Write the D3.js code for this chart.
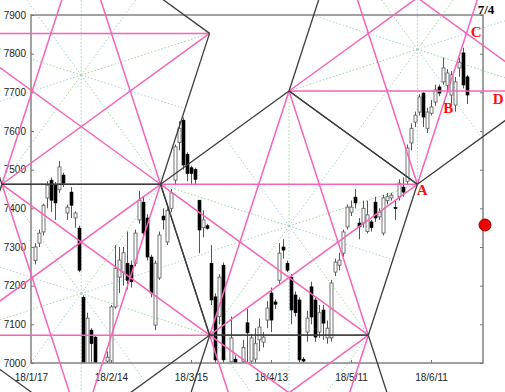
<!DOCTYPE html>
<html><head><meta charset="utf-8">
<script src="https://cdn.jsdelivr.net/npm/d3@7"></script>
<style>body{margin:0;background:#fff;overflow:hidden}</style>
</head><body><svg id="c" width="505" height="392"></svg>
<script>
// ---------------- data ----------------
const dateLabels = ["18/1/17","18/2/14","18/3/15","18/4/13","18/5/11","18/6/11"];
const dateTickIdx = [0,20,40,60,80,100];
const priceTicks = [7000,7100,7200,7300,7400,7500,7600,7700,7800,7900];
const lastDateLabel = "7/4";

const barIdx = d3.range(1,110);
const opens  = [7265,7310,7339,7427,7473,7460,7448,7486,7388,7442,7375,7349,7170,6980,7085,7067,6985,6960,7005,6995,
                7145,7222,7235,7258,7253,7258,7370,7416,7375,7274,7098,7220,7380,7313,7400,7473,7570,7628,7540,7505,
                7500,7421,7350,7355,7258,7171,7120,7253,6990,7003,7010,6990,7003,7104,7005,7010,7060,7054,7111,7181,
                7158,7214,7300,7258,7222,7176,7163,7010,7080,7197,7163,7080,7137,7065,7065,7235,7253,7284,7352,7390,
                7429,7362,7362,7340,7365,7416,7378,7336,7420,7427,7402,7430,7455,7470,7569,7623,7649,7698,7607,7646,
                7675,7714,7727,7718,7693,7667,7763,7802,7740];
const highs  = [7310,7345,7412,7470,7480,7468,7522,7492,7410,7455,7392,7355,7175,7130,7090,7070,6995,6990,7030,7150,
                7305,7300,7300,7340,7265,7345,7445,7430,7385,7280,7265,7340,7400,7400,7450,7565,7625,7635,7545,7510,
                7505,7421,7395,7360,7305,7180,7230,7260,6998,7120,7020,6998,7060,7140,7075,7090,7115,7080,7160,7195,
                7165,7310,7320,7265,7230,7185,7170,7015,7135,7210,7170,7150,7150,7110,7215,7270,7285,7345,7410,7420,
                7450,7375,7420,7420,7370,7430,7400,7435,7440,7440,7420,7475,7480,7565,7620,7650,7695,7700,7660,7680,
                7720,7720,7790,7760,7755,7740,7790,7815,7745];
const lows   = [7255,7300,7330,7400,7390,7370,7440,7455,7370,7375,7350,7235,6960,6960,6990,6970,6940,6930,6990,6980,
                7140,7181,7200,7190,7195,7250,7360,7330,7265,7170,7085,7215,7345,7305,7390,7460,7550,7500,7470,7460,
                7460,7284,7325,7345,7150,6990,7100,6990,6940,6990,6980,6950,6995,7000,6995,7000,7030,7040,7090,7080,
                7140,7205,7270,7235,7100,7120,7000,6995,7055,7100,7055,7065,7060,7050,7055,7225,7240,7275,7345,7380,
                7400,7320,7350,7335,7340,7365,7370,7330,7410,7420,7370,7420,7430,7460,7550,7610,7640,7610,7595,7640,
                7665,7690,7720,7700,7670,7650,7740,7710,7670];
const closes = [7300,7336,7408,7460,7421,7414,7507,7465,7403,7408,7388,7240,6980,7116,7050,6990,6960,6975,7015,7145,
                7245,7266,7285,7214,7210,7336,7421,7336,7274,7181,7258,7331,7370,7395,7440,7559,7607,7512,7490,7490,
                7475,7344,7370,7348,7163,7008,7222,7008,6960,7065,7000,6970,7040,7078,7065,7050,7093,7067,7142,7111,
                7152,7284,7292,7240,7137,7130,7008,7005,7116,7119,7067,7130,7103,7090,7207,7261,7266,7339,7403,7403,
                7414,7352,7400,7383,7350,7375,7390,7427,7430,7434,7400,7465,7442,7556,7607,7641,7688,7636,7649,7662,
                7706,7698,7763,7750,7745,7727,7778,7719,7693];

// pentagon construction (centres in bar-index / price units, radius in price units)
const pentagonCenters = [
  {i:12.55, p:7744.6, up:true},   // upper left
  {i:12.55, p:7179.7, up:false},  // lower left
  {i:64.5,  p:7354.3, up:true},   // middle
  {i:96.6,  p:7811.3, up:false},  // upper right
  {i:64.5,  p:6789.5, up:false}   // bottom
];
const pentagonRadius = 349;

const pointLabels = [
  {t:"A", i:97.8,  p:7447},
  {t:"B", i:104.3, p:7659},
  {t:"C", i:111.3, p:7856},
  {t:"D", i:116.8, p:7684}
];
const markerPoint = {i:113.5, p:7357};
const lastLabelPoint = {i:113.75, p:7913};

// ---------------- drawing ----------------
const svg = d3.select("#c");
const x = d3.scaleLinear().domain([0,113]).range([31,483]);
const y = d3.scaleLinear().domain([7000,7900]).range([363,15]);
const X0 = x(0), X1 = x(113), Y0 = y(7900), Y1 = y(7000);

svg.append("rect").attr("width",505).attr("height",392).attr("fill","#fff");
svg.append("defs").append("clipPath").attr("id","plot")
  .append("rect").attr("x",X0).attr("y",Y0).attr("width",X1-X0).attr("height",Y1-Y0);

const rPx = Math.abs(y(7000+pentagonRadius)-y(7000));
const pents = pentagonCenters.map(c=>{
  const cx=x(c.i), cy=y(c.p), base=c.up?90:270;
  const v=d3.range(5).map(k=>{const a=(base+72*k)*Math.PI/180;return [cx+rPx*Math.cos(a), cy-rPx*Math.sin(a)];});
  return {cx,cy,v};
});

// dotted radial rays
const gRay = svg.append("g").attr("fill","none").attr("stroke-width",1).attr("stroke-dasharray","1.5,2");
pents.forEach(P=>{
  P.v.forEach((pt,k)=>{
    gRay.append("line").attr("x1",P.cx).attr("y1",P.cy).attr("x2",pt[0]).attr("y2",pt[1]).attr("stroke","#9ed89e");
    const q=P.v[(k+1)%5];
    gRay.append("line").attr("x1",P.cx).attr("y1",P.cy).attr("x2",(pt[0]+q[0])/2).attr("y2",(pt[1]+q[1])/2).attr("stroke","#a8cfe6");
  });
});

// candles
const bars = barIdx.map((d,k)=>({i:d,o:opens[k],h:highs[k],l:lows[k],c:closes[k]}));
const gC = svg.append("g").attr("clip-path","url(#plot)");
bars.forEach(b=>{
  const cx = Math.round(x(b.i))+0.5;
  gC.append("line").attr("x1",cx).attr("x2",cx).attr("y1",y(b.h)).attr("y2",y(b.l)).attr("stroke","#555").attr("stroke-width",1);
  const top=y(Math.max(b.o,b.c)), bot=y(Math.min(b.o,b.c));
  const up=b.c>=b.o;
  gC.append("rect").attr("x",cx-1.5).attr("y",top).attr("width",3).attr("height",Math.max(1,bot-top))
    .attr("fill",up?"#fff":"#000").attr("stroke",up?"#666":"#000").attr("stroke-width",up?0.9:0.6);
});

// frame
svg.append("rect").attr("x",X0).attr("y",Y0).attr("width",X1-X0).attr("height",Y1-Y0)
  .attr("fill","none").attr("stroke","#8a8a8a").attr("stroke-width",1.6);

// axes
const fnt = "'Liberation Sans', Arial, sans-serif";
const ax1 = svg.append("g").attr("transform",`translate(${X0},0)`)
  .call(d3.axisLeft(y).tickValues(priceTicks).tickSize(-3).tickPadding(5).tickFormat(d3.format("d")));
const ax2 = svg.append("g").attr("transform",`translate(${X1},0)`)
  .call(d3.axisRight(y).tickValues(priceTicks).tickSize(-3).tickFormat(""));
const ax3 = svg.append("g").attr("transform",`translate(0,${Y1})`)
  .call(d3.axisBottom(x).tickValues(dateTickIdx).tickSize(-3).tickPadding(11).tickFormat((d,k)=>dateLabels[k]));
[ax1,ax2,ax3].forEach(a=>{
  a.select(".domain").remove();
  a.selectAll(".tick line").attr("stroke","#777");
  a.selectAll("text").attr("font-family",fnt).attr("font-size",10).attr("fill","#222");
});

// pink pentagram diagonals
const gP = svg.append("g").attr("stroke","#f564b8").attr("stroke-width",1.5).attr("fill","none");
pents.forEach(P=>{
  for(let k=0;k<5;k++){const a=P.v[k],b=P.v[(k+2)%5];
    gP.append("line").attr("x1",a[0]).attr("y1",a[1]).attr("x2",b[0]).attr("y2",b[1]);}
});
// black pentagon edges
const gE = svg.append("g").attr("stroke","#3c3c3c").attr("stroke-width",1.3).attr("fill","none");
pents.forEach(P=>{
  for(let k=0;k<5;k++){const a=P.v[k],b=P.v[(k+1)%5];
    gE.append("line").attr("x1",a[0]).attr("y1",a[1]).attr("x2",b[0]).attr("y2",b[1]);}
});

// labels
svg.append("g").selectAll("text").data(pointLabels).join("text")
  .attr("x",d=>x(d.i)).attr("y",d=>y(d.p)).attr("text-anchor","middle").attr("dominant-baseline","central")
  .attr("font-family","'Liberation Serif','Times New Roman',serif").attr("font-weight","bold")
  .attr("font-size",15).attr("fill","#ff1010").text(d=>d.t);
svg.append("text").attr("x",x(lastLabelPoint.i)).attr("y",y(lastLabelPoint.p))
  .attr("text-anchor","middle").attr("dominant-baseline","central")
  .attr("font-family","'Liberation Serif','Times New Roman',serif").attr("font-weight","bold")
  .attr("font-size",13).attr("fill","#000").text(lastDateLabel);
svg.append("circle").attr("cx",x(markerPoint.i)).attr("cy",y(markerPoint.p)).attr("r",6)
  .attr("fill","#ee0000").attr("stroke","#990000").attr("stroke-width",1);
</script></body></html>
